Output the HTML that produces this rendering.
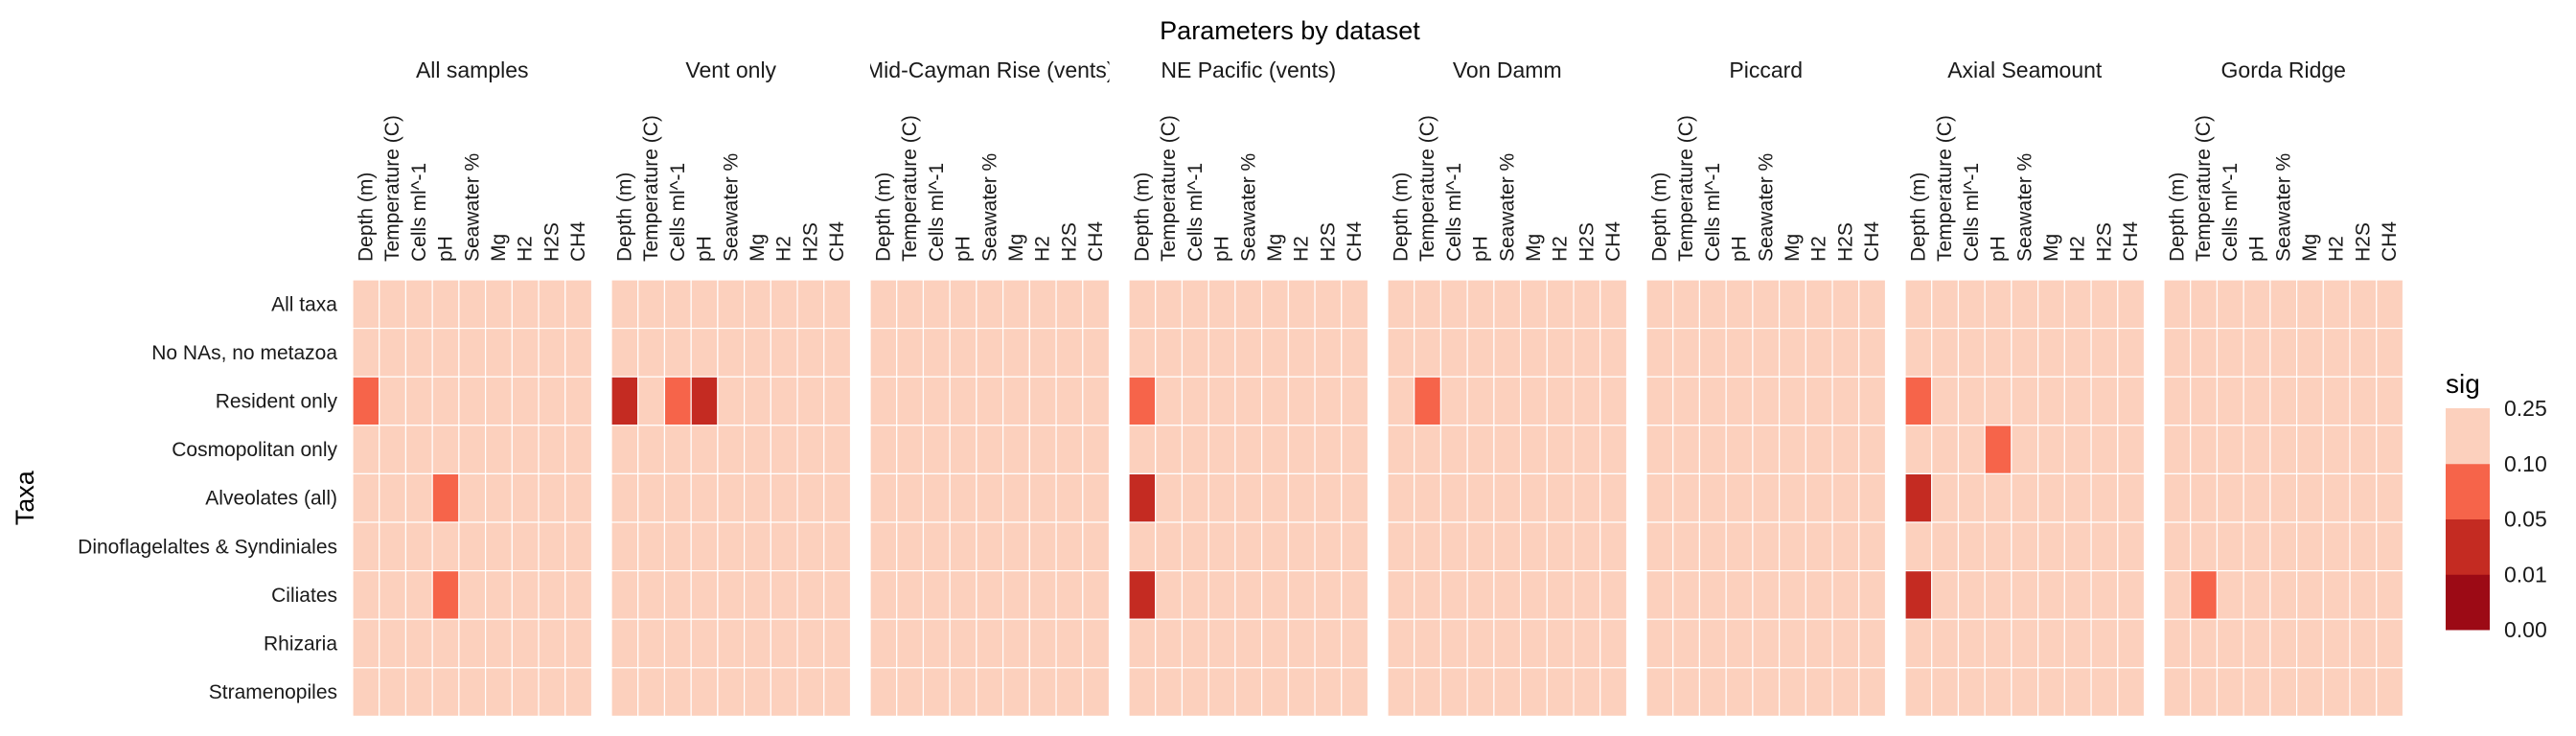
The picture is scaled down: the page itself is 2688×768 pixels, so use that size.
<!DOCTYPE html>
<html><head><meta charset="utf-8"><style>
html,body{margin:0;padding:0;background:#fff;}
svg{display:block;font-family:"Liberation Sans",Arial,sans-serif;}
</style></head><body>
<svg id="chart" width="2688" height="768" viewBox="0 0 2688 768"></svg>
<script>
const datasets = ["All samples","Vent only","Mid-Cayman Rise (vents)","NE Pacific (vents)","Von Damm","Piccard","Axial Seamount","Gorda Ridge"];
const params = ["Depth (m)","Temperature (C)","Cells ml^-1","pH","Seawater %","Mg","H2","H2S","CH4"];
const taxa = ["All taxa","No NAs, no metazoa","Resident only","Cosmopolitan only","Alveolates (all)","Dinoflagelaltes & Syndiniales","Ciliates","Rhizaria","Stramenopiles"];
// significant cells: [datasetIndex, taxonIndex, paramIndex, pValue]; all others 0.2
const sigCells = [
 [0,2,0,0.07],[0,4,3,0.07],[0,6,3,0.07],
 [1,2,0,0.03],[1,2,2,0.07],[1,2,3,0.03],
 [3,2,0,0.07],[3,4,0,0.03],[3,6,0,0.03],
 [4,2,1,0.07],
 [6,2,0,0.07],[6,3,3,0.07],[6,4,0,0.03],[6,6,0,0.03],
 [7,6,1,0.07]
];
const breaks = [0,0.01,0.05,0.10,0.25];
const breakLabels = ["0.00","0.01","0.05","0.10","0.25"];
const binColors = ["#9c0a15","#c42b22","#f6644a","#fcd0bd"];

const NS="http://www.w3.org/2000/svg";
const svg=document.getElementById('chart');
function mk(tag,attrs,parent){const e=document.createElementNS(NS,tag);for(const k in attrs)e.setAttribute(k,attrs[k]);(parent||svg).appendChild(e);return e;}
const L0=368, PW=249.5, STRIDE=270, TOP=292, ROWH=50.6;
const colW=PW/params.length;
function xPanel(d){return L0+d*STRIDE;}
function xCol(d,c){return xPanel(d)+c*colW;}
function yRow(r){return TOP+r*ROWH;}
function colorFor(p){for(let i=0;i<4;i++){if(p<=breaks[i+1])return binColors[i];}return binColors[3];}

let t=mk('text',{x:1346,y:41,'font-size':27,'text-anchor':'middle',fill:'#000'});


t.textContent='Parameters by dataset';

t=mk('text',{x:0,y:0,'font-size':27,'text-anchor':'middle',fill:'#000',transform:'translate(35,'+(TOP+4.5*ROWH)+') rotate(-90)'});


t.textContent='Taxa';

taxa.forEach((tx,r)=>{
 const e=mk('text',{x:352,y:yRow(r)+ROWH/2+7,'font-size':21,'text-anchor':'end',fill:'#1a1a1a'});
 
 
 e.textContent=tx;
});

const defs=mk('defs',{});
datasets.forEach((ds,d)=>{
 const g=mk('g',{});
 
 
 const cp=mk('clipPath',{id:'cp'+d},defs);
 mk('rect',{x:xPanel(d),y:50,width:PW,height:40},cp);
 const s=mk('text',{x:xPanel(d)+PW/2,y:81,'font-size':23,'text-anchor':'middle',fill:'#1a1a1a','clip-path':'url(#cp'+d+')'},g);
 
 
 s.textContent=ds;
 params.forEach((p,c)=>{
  const cx=xCol(d,c)+colW/2;
  const e=mk('text',{x:0,y:0,'font-size':21,'text-anchor':'start','dominant-baseline':'central',fill:'#1a1a1a',transform:'translate('+cx+',273) rotate(-90)'},g);
  
  
  e.textContent=p;
 });
 taxa.forEach((tx,r)=>{
  params.forEach((p,c)=>{
   let v=0.2;
   sigCells.forEach(sc=>{if(sc[0]===d&&sc[1]===r&&sc[2]===c)v=sc[3];});
   const rc=mk('rect',{x:xCol(d,c),y:yRow(r),width:colW,height:ROWH,fill:colorFor(v),stroke:'#ffffff','stroke-width':1.2},g);
   
   
  });
 });
});

const lg=mk('g',{});


t=mk('text',{x:2552,y:410,'font-size':28,fill:'#000'},lg);


t.textContent='sig';
const LT=426, LB=657, LX=2552, LW=46;
const segH=(LB-LT)/4;
for(let i=0;i<4;i++){
 const rc=mk('rect',{x:LX,y:LB-(i+1)*segH,width:LW,height:segH+0.5,fill:binColors[i]},lg);
 
 
}
breakLabels.forEach((bl,i)=>{
 const e=mk('text',{x:2613,y:LB-i*segH+8,'font-size':23,fill:'#1a1a1a'},lg);
 
 
 e.textContent=bl;
});
</script>
</body></html>
